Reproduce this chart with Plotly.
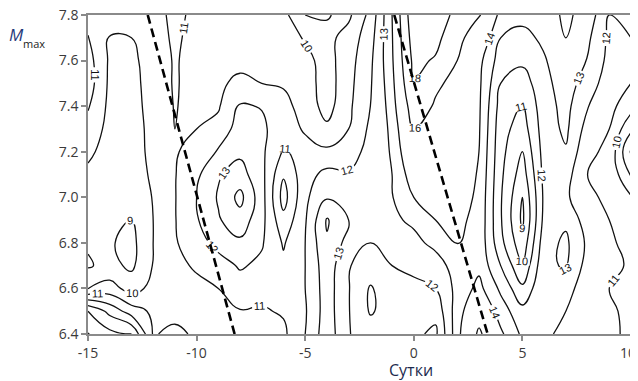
import plotly.graph_objects as go

# X: days, Y: magnitude
days = list(range(-15, 11))
mmax = [6.4, 6.5, 6.6, 6.7, 6.8, 6.9, 7.0, 7.1, 7.2, 7.3, 7.4, 7.5, 7.6, 7.7, 7.8]

# field values, one row per M level (x = -15 .. 10)
row_6_4 = [16.1, 14.3, 14.0, 10.9, 11.3, 10.8, 10.9, 10.6, 10.7, 10.8, 12.0, 13.6, 12.05, 11.5, 11.3, 11.2, 10.8, 13.6, 16.3, 14.2, 12.8, 12.3, 11.6, 11.6, 11.7, 10.3]
row_6_5 = [14.0, 12.7, 11.5, 10.8, 10.6, 10.8, 10.9, 10.95, 10.9, 11.1, 11.9, 13.5, 12.05, 10.9, 11.4, 11.4, 11.3, 13.5, 15.2, 13.5, 12.3, 12.6, 12.0, 11.3, 11.4, 10.4]
row_6_6 = [9.95, 10.4, 9.6, 10.3, 10.7, 10.8, 11.0, 11.6, 11.3, 11.3, 12.0, 13.5, 12.05, 10.9, 11.6, 11.9, 12.0, 13.3, 14.3, 12.8, 11.2, 12.9, 12.6, 11.1, 11.0, 10.7]
row_6_7 = [8.9, 9.3, 8.8, 10.05, 10.8, 11.1, 11.6, 12.1, 11.8, 11.2, 12.0, 13.6, 12.05, 11.6, 12.0, 12.1, 12.5, 13.5, 13.75, 12.0, 10.1, 12.8, 13.1, 11.6, 11.2, 10.9]
row_6_8 = [9.1, 9.1, 8.7, 10.0, 10.9, 11.6, 12.3, 12.8, 12.1, 10.9, 12.0, 13.9, 12.6, 12.0, 12.5, 12.7, 13.3, 14.05, 13.7, 11.3, 9.3, 12.6, 13.2, 11.8, 11.1, 10.8]
row_6_9 = [9.4, 9.2, 9.0, 10.0, 10.95, 11.9, 12.9, 13.6, 12.3, 10.3, 11.9, 14.1, 13.0, 12.3, 12.8, 13.2, 14.0, 14.2, 13.75, 11.1, 8.8, 12.3, 12.8, 11.5, 11.0, 10.6]
row_7_0 = [9.6, 9.4, 9.3, 10.05, 10.95, 12.0, 13.1, 14.3, 12.4, 9.6, 11.8, 12.9, 12.9, 12.4, 12.95, 14.0, 14.6, 14.5, 13.8, 11.1, 9.0, 12.2, 12.2, 11.1, 10.9, 10.1]
row_7_1 = [9.8, 9.5, 9.4, 10.2, 10.95, 11.8, 12.9, 13.4, 12.3, 10.1, 11.6, 12.3, 12.1, 12.5, 13.0, 14.6, 14.9, 14.7, 13.9, 11.2, 9.5, 12.3, 12.4, 11.0, 10.8, 8.9]
row_7_2 = [10.2, 9.6, 9.5, 10.3, 10.9, 11.4, 12.1, 12.8, 12.2, 10.9, 11.3, 11.2, 11.6, 12.3, 13.1, 15.3, 15.1, 14.9, 14.0, 11.3, 10.0, 12.4, 12.9, 11.2, 10.8, 7.9]
row_7_3 = [10.6, 9.7, 9.5, 10.35, 11.0, 11.0, 11.3, 12.5, 12.2, 11.4, 10.9, 10.2, 11.0, 12.2, 13.2, 16.0, 15.4, 15.0, 14.1, 11.4, 10.5, 12.5, 13.2, 11.6, 11.0, 9.2]
row_7_4 = [11.1, 9.75, 9.6, 10.4, 11.05, 10.7, 10.9, 12.1, 11.95, 11.3, 10.6, 9.6, 10.8, 12.0, 13.4, 17.0, 15.8, 15.2, 14.15, 11.6, 10.9, 12.6, 13.3, 12.05, 11.3, 10.4]
row_7_5 = [11.5, 9.8, 9.7, 10.4, 11.1, 10.6, 10.7, 11.4, 11.0, 10.9, 10.5, 9.5, 10.7, 11.9, 13.6, 17.9, 16.3, 15.5, 14.2, 12.0, 11.5, 12.7, 13.5, 12.5, 11.5, 11.0]
row_7_6 = [11.4, 9.85, 9.8, 10.4, 11.1, 10.6, 10.5, 10.5, 10.4, 10.6, 10.3, 9.6, 10.6, 11.8, 13.8, 18.5, 17.8, 16.0, 14.3, 12.5, 12.2, 12.9, 13.7, 12.95, 11.7, 11.6]
row_7_7 = [11.05, 9.95, 10.0, 10.6, 11.15, 10.7, 10.4, 10.3, 10.2, 10.5, 9.9, 9.7, 10.4, 11.6, 13.9, 19.0, 18.6, 16.5, 15.0, 13.0, 12.7, 13.2, 14.0, 13.2, 11.8, 12.0]
row_7_8 = [10.6, 10.4, 10.5, 10.7, 11.2, 10.8, 10.6, 10.5, 10.3, 10.3, 9.0, 8.8, 9.8, 11.3, 14.0, 19.5, 19.0, 17.5, 16.2, 13.6, 13.3, 13.5, 14.2, 13.6, 12.0, 12.3]

z = [row_6_4, row_6_5, row_6_6, row_6_7, row_6_8, row_6_9, row_7_0, row_7_1,
     row_7_2, row_7_3, row_7_4, row_7_5, row_7_6, row_7_7, row_7_8]

# dashed guide lines (end points)
dash1_x = [-12.25, -8.25]
dash1_y = [7.8, 6.4]
dash2_x = [-0.9, 3.4]
dash2_y = [7.8, 6.4]

x_ticks = [-15, -10, -5, 0, 5, 10]
x_ticktext = ["-15", "-10", "-5", "0", "5", ""]   # last label drawn as annotation so it is not clipped
y_ticks = [6.4, 6.6, 6.8, 7.0, 7.2, 7.4, 7.6, 7.8]

INK = "#111111"
BLACK_SCALE = [[0, INK], [1, INK]]
label_font = dict(family="Liberation Sans, Arial, sans-serif", size=11, color=INK)
tick_font = dict(family="Open Sans, DejaVu Sans, sans-serif", size=14, color="#3a3a3a")

fig = go.Figure()
common = dict(x=days, y=mmax, z=z, showscale=False, hoverinfo="skip",
              colorscale=BLACK_SCALE, line=dict(width=1.3, smoothing=1.3))
fig.add_trace(go.Contour(
    **common,
    contours=dict(coloring="lines", start=8, end=14, size=1,
                  showlabels=True, labelfont=label_font),
))
fig.add_trace(go.Contour(
    **common,
    contours=dict(coloring="lines", start=16, end=18, size=2,
                  showlabels=True, labelfont=label_font),
))
for dx, dy in ((dash1_x, dash1_y), (dash2_x, dash2_y)):
    fig.add_trace(go.Scatter(x=dx, y=dy, mode="lines", hoverinfo="skip",
                             line=dict(color="black", width=2.6, dash="9px,5px"),
                             showlegend=False))

axis_common = dict(showline=True, linecolor="#8a8a8a", linewidth=1.5, mirror=True,
                   ticks="outside", ticklen=5, tickcolor="#8a8a8a", tickwidth=1.5,
                   showgrid=False, zeroline=False, tickfont=tick_font,
                   ticklabeloverflow="allow", automargin=False)

fig.update_xaxes(range=[-15, 10], tickvals=x_ticks, ticktext=x_ticktext, **axis_common)
fig.update_yaxes(range=[6.4, 7.8], tickvals=y_ticks,
                 ticktext=[f"{v:.1f}" for v in y_ticks], **axis_common)

# the page body keeps its default 8px margin, so the figure is 8px smaller than the window
fig.update_layout(
    width=630, height=373,
    margin=dict(l=80, r=7, t=7, b=47, autoexpand=False),
    paper_bgcolor="white", plot_bgcolor="white",
    showlegend=False,
    annotations=[
        dict(xref="paper", yref="paper", x=-0.149, y=0.938, xanchor="left", yanchor="middle",
             text="<i>M</i>", showarrow=False,
             font=dict(family="Open Sans, DejaVu Sans, sans-serif", size=17, color="#1f3a7a")),
        dict(xref="paper", yref="paper", x=-0.124, y=0.91, xanchor="left", yanchor="middle",
             text="max", showarrow=False,
             font=dict(family="Open Sans, DejaVu Sans, sans-serif", size=11, color="#222222")),
        dict(xref="paper", yref="paper", x=1.0129, y=-0.022, xanchor="right", yanchor="top",
             text="10", showarrow=False, font=tick_font),
        dict(xref="paper", yref="paper", x=0.595, y=-0.114, xanchor="center", yanchor="middle",
             text="Сутки", showarrow=False,
             font=dict(family="Open Sans, DejaVu Sans, sans-serif", size=16, color="#1c2a4e")),
    ],
)

fig.write_html("out.html")
